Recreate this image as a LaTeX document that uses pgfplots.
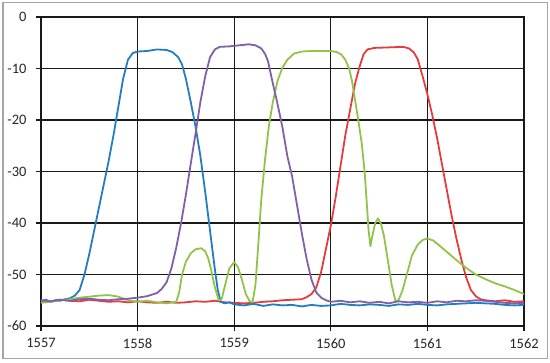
\documentclass[border=0pt]{standalone}
\usepackage{fontspec}
\setmainfont{Carlito}
\usepackage{pgfplots}
\pgfplotsset{compat=1.18}
\definecolor{cblue}{RGB}{35,125,190}
\definecolor{cpurple}{RGB}{130,95,170}
\definecolor{cgreen}{RGB}{145,195,75}
\definecolor{cred}{RGB}{228,60,60}
\definecolor{frame}{RGB}{165,165,165}
\begin{document}
\begin{tikzpicture}[x=1bp,y=1bp]
\useasboundingbox (-41,-36) rectangle (509,326);
\draw[frame, line width=1bp] (-38,-32) rectangle (506,323);
\begin{axis}[at={(0,0)}, anchor=south west, scale only axis,
  width=483bp, height=309bp,
  xmin=1557, xmax=1562, ymin=-60, ymax=0,
  xtick={1557,1558,1559,1560,1561,1562},
  xticklabels={1557,1558,1559,1560,1561,1562},
  ytick={-60,-50,-40,-30,-20,-10,0},
  yticklabels={-60,-50,-40,-30,-20,-10,0},
  grid=major,
  major grid style={black!90, line width=1.1bp},
  axis line style={black!90, line width=1.1bp},
  tick style={black!90, line width=1.1bp},
  tick align=outside, major tick length=5bp,
  xtick pos=left, ytick pos=left,
  ticklabel style={font=\fontsize{14.5}{17}\selectfont, text=black!85},
  yticklabel style={xshift=-6bp},
  xticklabel style={yshift=-4bp},
  every axis plot/.append style={line width=1.8bp, line join=round},
]
\addplot[cred] coordinates {
(1557,-55.0)(1557.1,-55.2)(1557.2,-54.9)(1557.3,-55.1)(1557.4,-55.2)(1557.5,-54.9)(1557.6,-55.1)(1557.7,-55.3)(1557.8,-55.2)(1557.9,-55.4)(1558.0,-55.2)(1558.1,-55.4)(1558.2,-55.5)(1558.3,-55.3)(1558.4,-55.5)(1558.5,-55.4)(1558.6,-55.2)(1558.7,-55.3)(1558.8,-55.1)(1558.9,-55.4)(1559.0,-55.5)(1559.1,-55.6)(1559.2,-55.5)(1559.3,-55.3)(1559.4,-55.2)(1559.5,-55.0)(1559.6,-54.9)(1559.7,-54.8)(1559.75,-54.4)(1559.8,-53.8)(1559.85,-52.5)(1559.9,-49.5)(1559.95,-45)(1560.0,-40.5)(1560.05,-35)(1560.1,-29)(1560.15,-23)(1560.2,-18)(1560.25,-13)(1560.3,-9.5)(1560.34,-7.2)(1560.38,-6.3)(1560.45,-6.0)(1560.6,-5.9)(1560.75,-5.8)(1560.81,-6.1)(1560.86,-6.9)(1560.9,-8.2)(1560.95,-11.5)(1561.0,-15)(1561.05,-19)(1561.1,-23.5)(1561.15,-28.5)(1561.2,-33.5)(1561.25,-38.5)(1561.3,-43)(1561.35,-47)(1561.4,-50.5)(1561.45,-53)(1561.5,-54.2)(1561.55,-54.8)(1561.6,-55.0)(1561.7,-55.2)(1561.8,-55.0)(1561.9,-55.3)(1562,-55.2)
};
\addplot[cblue] coordinates {
(1557,-55.2)(1557.05,-54.9)(1557.1,-55.3)(1557.15,-55.0)(1557.2,-55.1)(1557.25,-54.8)(1557.3,-54.6)(1557.35,-54.1)(1557.4,-53.0)(1557.45,-50.0)(1557.5,-46.0)(1557.55,-41.5)(1557.6,-37)(1557.65,-32.5)(1557.7,-28)(1557.75,-23)(1557.8,-17.5)(1557.85,-12)(1557.9,-8.3)(1557.95,-7.0)(1558.0,-6.7)(1558.1,-6.6)(1558.2,-6.3)(1558.3,-6.4)(1558.36,-6.8)(1558.42,-7.8)(1558.46,-9.2)(1558.5,-12)(1558.55,-16.5)(1558.6,-21.3)(1558.65,-27)(1558.7,-34)(1558.75,-41.5)(1558.8,-49)(1558.83,-53)(1558.86,-55.3)(1558.9,-55.6)(1558.95,-55.4)(1559.0,-55.8)(1559.1,-56.0)(1559.2,-55.7)(1559.3,-56.1)(1559.4,-55.8)(1559.5,-56.0)(1559.6,-55.9)(1559.7,-56.2)(1559.8,-55.9)(1559.9,-56.1)(1560.0,-56.0)(1560.1,-55.7)(1560.2,-55.9)(1560.3,-56.0)(1560.4,-55.8)(1560.5,-55.9)(1560.6,-56.1)(1560.7,-55.8)(1560.8,-55.9)(1560.9,-55.7)(1561.0,-55.9)(1561.1,-56.0)(1561.2,-55.8)(1561.3,-55.7)(1561.4,-55.6)(1561.5,-55.5)(1561.6,-55.6)(1561.7,-55.7)(1561.8,-55.9)(1561.9,-56.0)(1562,-55.9)
};
\addplot[cgreen] coordinates {
(1557,-55.5)(1557.1,-55.3)(1557.2,-55.0)(1557.3,-54.8)(1557.4,-54.5)(1557.5,-54.3)(1557.6,-54.1)(1557.7,-54.0)(1557.8,-54.3)(1557.9,-55.0)(1558.0,-55.3)(1558.1,-55.1)(1558.2,-55.4)(1558.3,-55.6)(1558.4,-55.3)(1558.43,-53.5)(1558.46,-50)(1558.5,-47.5)(1558.55,-45.9)(1558.6,-45.1)(1558.66,-44.9)(1558.7,-45.5)(1558.73,-46.8)(1558.76,-49)(1558.8,-52.5)(1558.84,-55.0)(1558.87,-54.8)(1558.9,-52.5)(1558.95,-48.8)(1559.0,-47.6)(1559.04,-48.6)(1559.08,-51)(1559.12,-53.8)(1559.16,-55.2)(1559.19,-55.4)(1559.22,-52)(1559.25,-44)(1559.28,-35.5)(1559.32,-27.5)(1559.36,-21)(1559.4,-16.5)(1559.45,-12.3)(1559.5,-9.8)(1559.55,-8.3)(1559.62,-7.1)(1559.7,-6.7)(1559.8,-6.6)(1560.0,-6.6)(1560.06,-6.8)(1560.11,-7.3)(1560.15,-8.3)(1560.19,-10)(1560.22,-12.5)(1560.25,-16)(1560.28,-19.5)(1560.32,-24.5)(1560.35,-30)(1560.37,-35.5)(1560.39,-41.2)(1560.41,-44.5)(1560.43,-42.5)(1560.46,-40.0)(1560.49,-39.1)(1560.52,-40.2)(1560.55,-42.5)(1560.59,-47.2)(1560.63,-52)(1560.67,-55.2)(1560.7,-55.0)(1560.74,-53.2)(1560.79,-49.8)(1560.84,-46.3)(1560.9,-44.2)(1560.95,-43.3)(1561.0,-43.0)(1561.06,-43.4)(1561.12,-44.3)(1561.2,-45.6)(1561.3,-47.2)(1561.4,-48.7)(1561.5,-50.0)(1561.6,-50.9)(1561.7,-51.7)(1561.8,-52.3)(1561.9,-53.0)(1562,-53.8)
};
\addplot[cpurple] coordinates {
(1557,-55.0)(1557.1,-55.2)(1557.2,-54.9)(1557.3,-55.1)(1557.4,-54.8)(1557.5,-54.7)(1557.6,-54.9)(1557.7,-55.0)(1557.8,-54.8)(1557.9,-54.7)(1558.0,-54.5)(1558.1,-54.2)(1558.2,-53.6)(1558.25,-52.8)(1558.3,-51.5)(1558.35,-48.8)(1558.4,-44.8)(1558.45,-40)(1558.5,-34.5)(1558.55,-28.5)(1558.6,-22.6)(1558.65,-16.5)(1558.7,-11.5)(1558.75,-7.8)(1558.8,-6.3)(1558.85,-5.8)(1558.95,-5.7)(1559.05,-5.5)(1559.15,-5.3)(1559.22,-5.5)(1559.28,-6.1)(1559.32,-7.2)(1559.35,-8.6)(1559.4,-12.9)(1559.45,-17)(1559.5,-21.5)(1559.55,-27)(1559.6,-31)(1559.65,-36.5)(1559.7,-42)(1559.75,-47)(1559.8,-51)(1559.85,-53.5)(1559.9,-54.5)(1559.95,-55.0)(1560,-55.3)(1560.1,-55.1)(1560.2,-55.4)(1560.3,-55.2)(1560.4,-55.5)(1560.5,-55.3)(1560.6,-55.6)(1560.7,-55.2)(1560.8,-55.4)(1560.9,-55.3)(1561.0,-55.5)(1561.1,-55.2)(1561.2,-55.4)(1561.3,-55.1)(1561.4,-55.2)(1561.5,-55.0)(1561.6,-55.1)(1561.7,-55.3)(1561.8,-55.5)(1561.9,-55.6)(1562,-55.5)
};
\end{axis}
\end{tikzpicture}
\end{document}
